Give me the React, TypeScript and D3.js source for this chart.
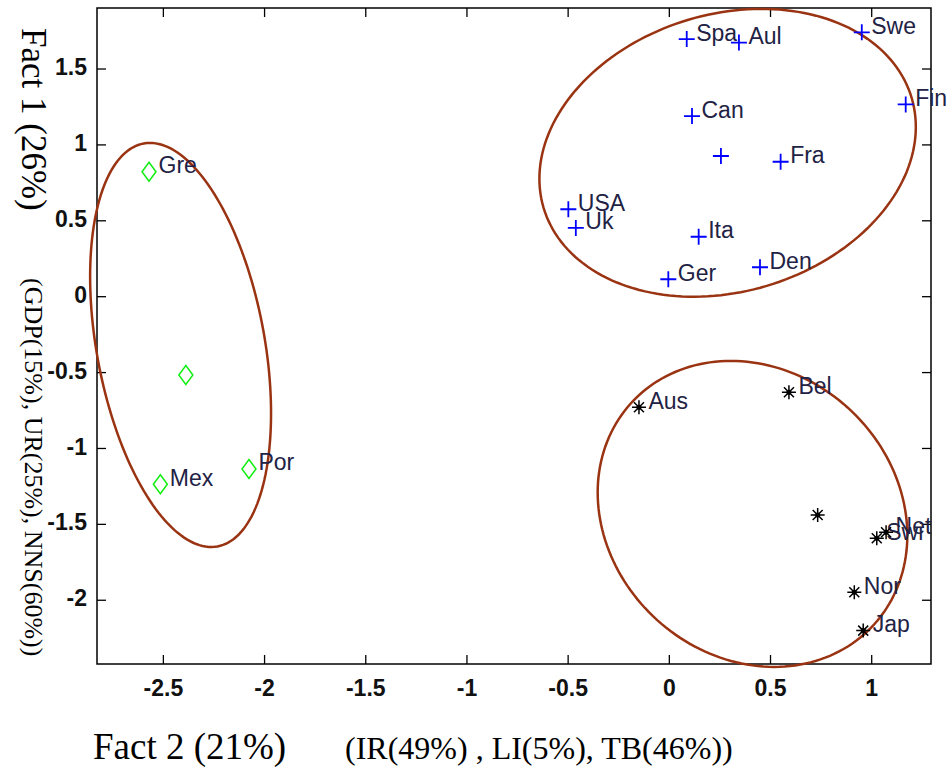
import React from "react";
import * as d3 from "d3";

// group 1 (blue +)
const names1 = ["Spa", "Aul", "Swe", "Fin", "Can", "", "Fra", "USA", "Uk", "Ita", "Den", "Ger"];
const fact2G1 = [0.086, 0.344, 0.951, 1.168, 0.112, 0.255, 0.55, -0.499, -0.462, 0.145, 0.448, -0.005];
const fact1G1 = [1.697, 1.674, 1.742, 1.267, 1.19, 0.927, 0.889, 0.576, 0.453, 0.395, 0.194, 0.115];

// group 2 (green diamonds)
const names2 = ["Gre", "", "Mex", "Por"];
const fact2G2 = [-2.571, -2.389, -2.515, -2.077];
const fact1G2 = [0.823, -0.516, -1.236, -1.135];

// group 3 (black asterisks)
const names3 = ["Aus", "Bel", "", "Swi", "Net", "Nor", "Jap"];
const fact2G3 = [-0.15, 0.591, 0.733, 1.025, 1.071, 0.914, 0.958];
const fact1G3 = [-0.729, -0.63, -1.438, -1.592, -1.552, -1.947, -2.2];

// ellipses: centre, half extents, correlation
const ellCx = [0.288, -2.415, 0.411];
const ellCy = [0.948, -0.318, -1.431];
const ellRx = [0.93, 0.447, 0.765];
const ellRy = [0.948, 1.331, 1.008];
const ellRho = [0.18, -0.338, -0.14];

const xTicks = [-2.5, -2, -1.5, -1, -0.5, 0, 0.5, 1];
const yTicks = [-2, -1.5, -1, -0.5, 0, 0.5, 1, 1.5];

const W = 949, H = 767;
const left = 97, right = 931, top = 8, bottom = 664;

export default function App() {
  const x = d3.scaleLinear().domain([-2.828, 1.293]).range([left, right]);
  const y = d3.scaleLinear().domain([-2.42, 1.902]).range([bottom, top]);

  const line = d3.line<[number, number]>().x(d => x(d[0])).y(d => y(d[1])).curve(d3.curveLinearClosed);
  const ellipses = ellCx.map((cx, i) => {
    const pts: [number, number][] = d3.range(0, 360, 2).map(a => {
      const t = (a * Math.PI) / 180;
      return [
        cx + ellRx[i] * Math.cos(t),
        ellCy[i] + ellRho[i] * ellRy[i] * Math.cos(t) + ellRy[i] * Math.sqrt(1 - ellRho[i] ** 2) * Math.sin(t),
      ];
    });
    return line(pts) as string;
  });

  const labelFont = "'Liberation Sans', Arial, sans-serif";
  const serif = "'Liberation Serif', 'Times New Roman', serif";
  const labelColor = "#222244";
  const tickLen = 9;

  const label = (name: string, px: number, py: number, key: string) =>
    name ? (
      <text key={key} x={x(px) + 9.5} y={y(py) + 1.5} fontSize={23} fontFamily={labelFont} fill={labelColor}>
        {name}
      </text>
    ) : null;

  return (
    <svg width={W} height={H} style={{ position: "absolute", left: 0, top: 0, background: "#fff" }}>
      {/* axes box */}
      <rect x={left} y={top} width={right - left} height={bottom - top} fill="none" stroke="#000" strokeWidth={1.5} />
      {xTicks.map(t => (
        <g key={"x" + t}>
          <line x1={x(t)} x2={x(t)} y1={bottom} y2={bottom - tickLen} stroke="#000" strokeWidth={1.3} />
          <line x1={x(t)} x2={x(t)} y1={top} y2={top + tickLen} stroke="#000" strokeWidth={1.3} />
          <text x={x(t)} y={bottom + 26} textAnchor="middle" dominantBaseline="middle" fontSize={23} fontWeight="bold" fontFamily={labelFont} fill="#111">
            {String(t)}
          </text>
        </g>
      ))}
      {yTicks.map(t => (
        <g key={"y" + t}>
          <line x1={left} x2={left + tickLen} y1={y(t)} y2={y(t)} stroke="#000" strokeWidth={1.3} />
          <line x1={right} x2={right - tickLen} y1={y(t)} y2={y(t)} stroke="#000" strokeWidth={1.3} />
          <text x={left - 10} y={y(t)} textAnchor="end" dominantBaseline="middle" fontSize={23} fontWeight="bold" fontFamily={labelFont} fill="#111">
            {String(t)}
          </text>
        </g>
      ))}

      {/* axis titles */}
      <text x={93} y={759} fontSize={37} fontFamily={serif} fill="#000">Fact 2 (21%)</text>
      <text x={345} y={759} fontSize={32} fontFamily={serif} fill="#000">(IR(49%) , LI(5%), TB(46%))</text>
      <text transform="translate(22,28) rotate(90)" fontSize={35} fontFamily={serif} fill="#000">Fact 1 (26%)</text>
      <text transform="translate(25,278) rotate(90)" fontSize={26} fontFamily={serif} fill="#000">(GDP(15%), UR(25%), NNS(60%))</text>

      {/* ellipses */}
      {ellipses.map((d, i) => (
        <path key={"e" + i} d={d} fill="none" stroke="#993311" strokeWidth={2.5} />
      ))}

      {/* group 1 */}
      {fact2G1.map((v, i) => (
        <g key={"g1" + i}>
          <path d={`M${x(v) - 8},${y(fact1G1[i])}h16M${x(v)},${y(fact1G1[i]) - 8}v16`} stroke="#0000ff" strokeWidth={1.8} fill="none" />
          {label(names1[i], v, fact1G1[i], "l1" + i)}
        </g>
      ))}

      {/* group 2 */}
      {fact2G2.map((v, i) => {
        const cx = x(v), cy = y(fact1G2[i]);
        return (
          <g key={"g2" + i}>
            <path d={`M${cx},${cy - 9.5}L${cx + 7},${cy}L${cx},${cy + 9.5}L${cx - 7},${cy}Z`} stroke="#11ee11" strokeWidth={1.5} fill="none" />
            {label(names2[i], v, fact1G2[i], "l2" + i)}
          </g>
        );
      })}

      {/* group 3 */}
      {fact2G3.map((v, i) => {
        const cx = x(v), cy = y(fact1G3[i]);
        return (
          <g key={"g3" + i}>
            <path
              d={`M${cx - 7},${cy}h14M${cx},${cy - 7}v14M${cx - 5},${cy - 5}l10,10M${cx - 5},${cy + 5}l10,-10`}
              stroke="#000"
              strokeWidth={1.5}
              fill="none"
            />
            <circle cx={cx} cy={cy} r={2.5} fill="#000" />
            {label(names3[i], v, fact1G3[i], "l3" + i)}
          </g>
        );
      })}
    </svg>
  );
}
